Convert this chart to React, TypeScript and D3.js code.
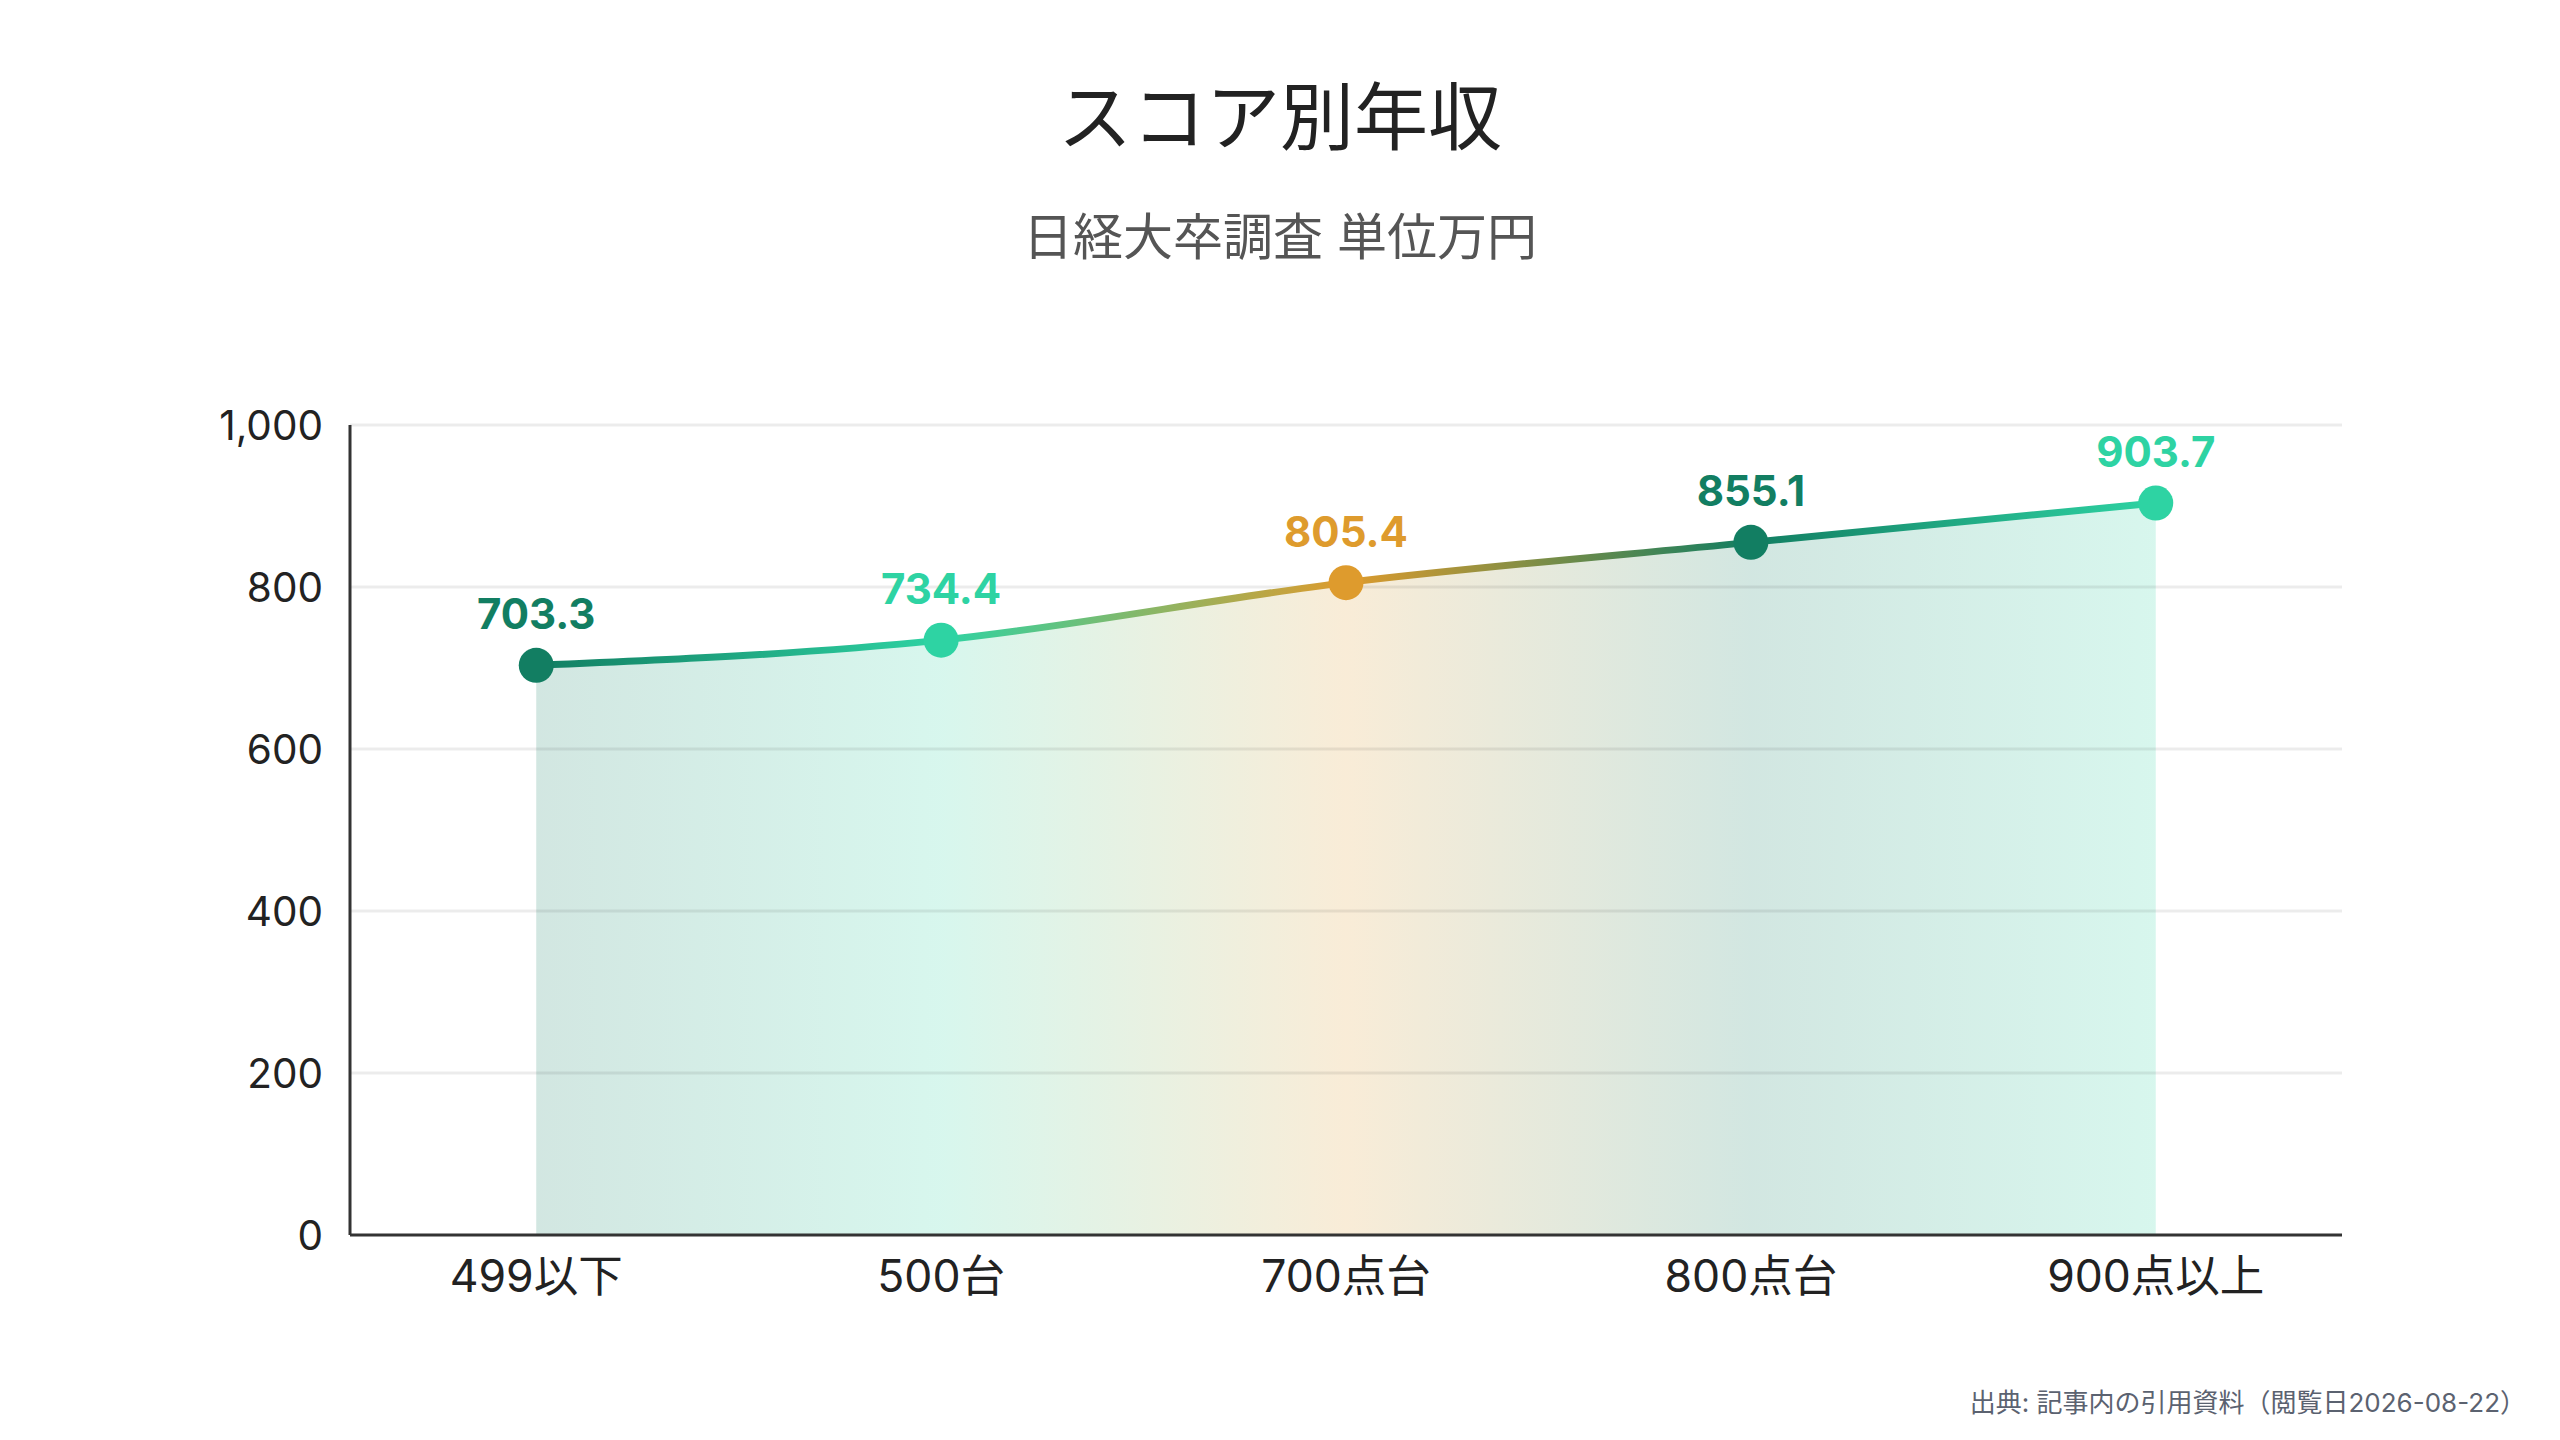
import React from "react";
import * as d3 from "d3";

const categories: string[] = ["499以下", "500台", "700点台", "800点台", "900点以上"];
const values: number[] = [703.3, 734.4, 805.4, 855.1, 903.7];
const pointColors: string[] = ["#127e62", "#2ed3a3", "#de9b2d", "#127e62", "#2ed3a3"];
const yTicks: number[] = [0, 200, 400, 600, 800, 1000];
const titleText = "スコア別年収";
const subtitleText = "日経大卒調査 単位万円";
const sourceText = "出典: 記事内の引用資料（閲覧日2026-08-22）";

const W = 2560;
const H = 1440;
const margin = { left: 350, right: 2342, top: 425, bottom: 1235 };
const FONT = "Inter, 'Noto Sans CJK JP', 'Noto Sans', sans-serif";

export default function App() {
  const x = d3
    .scalePoint<string>()
    .domain(categories)
    .range([margin.left, margin.right])
    .padding(0.46);
  const y = d3.scaleLinear().domain([0, 1000]).range([margin.bottom, margin.top]);

  const data = categories.map((c, i) => ({ c, v: values[i], color: pointColors[i] }));
  const line = d3
    .line<{ c: string; v: number }>()
    .x((d) => x(d.c)!)
    .y((d) => y(d.v))
    .curve(d3.curveMonotoneX);
  const area = d3
    .area<{ c: string; v: number }>()
    .x((d) => x(d.c)!)
    .y0(y(0))
    .y1((d) => y(d.v))
    .curve(d3.curveMonotoneX);

  const x0 = x(categories[0])!;
  const x1 = x(categories[categories.length - 1])!;
  const stops = data.map((d) => ({
    offset: ((x(d.c)! - x0) / (x1 - x0)) * 100,
    color: d.color,
  }));
  const fmt = d3.format(",");

  return (
    <div style={{ position: "absolute", left: 0, top: 0, width: W, height: H, background: "#fff" }}>
      <svg width={W} height={H} viewBox={`0 0 ${W} ${H}`} style={{ display: "block", fontFamily: FONT }}>
        <defs>
          <linearGradient id="lineGrad" gradientUnits="userSpaceOnUse" x1={x0} x2={x1} y1={0} y2={0}>
            {stops.map((s, i) => (
              <stop key={i} offset={`${s.offset}%`} stopColor={s.color} />
            ))}
          </linearGradient>
          <linearGradient id="areaGrad" gradientUnits="userSpaceOnUse" x1={x0} x2={x1} y1={0} y2={0}>
            {stops.map((s, i) => (
              <stop key={i} offset={`${s.offset}%`} stopColor={s.color} stopOpacity={0.19} />
            ))}
          </linearGradient>
        </defs>
        <rect x={0} y={0} width={W} height={H} fill="#fff" />

        <text x={W / 2} y={117} textAnchor="middle" dominantBaseline="central" fontSize={74} fill="#222">
          {titleText}
        </text>
        <text x={W / 2} y={237} textAnchor="middle" dominantBaseline="central" fontSize={50} fill="#555">
          {subtitleText}
        </text>

        <path d={area(data) || ""} fill="url(#areaGrad)" />

        {yTicks.map((t) => (
          <g key={t}>
            {t > 0 && (
              <line
                x1={margin.left}
                x2={margin.right}
                y1={y(t)}
                y2={y(t)}
                stroke="#000"
                strokeOpacity={0.075}
                strokeWidth={3}
              />
            )}
            <text
              x={323}
              y={y(t)}
              textAnchor="end"
              dominantBaseline="central"
              fontSize={40.5}
              fill="#222"
            >
              {fmt(t)}
            </text>
          </g>
        ))}

        <line x1={margin.left} x2={margin.left} y1={margin.top} y2={margin.bottom} stroke="#333" strokeWidth={3} />
        <line x1={margin.left} x2={margin.right} y1={margin.bottom} y2={margin.bottom} stroke="#333" strokeWidth={3} />

        {categories.map((c) => (
          <text key={c} x={x(c)!} y={1276} textAnchor="middle" dominantBaseline="central" fontSize={44.5} fill="#222">
            {c}
          </text>
        ))}

        <path d={line(data) || ""} fill="none" stroke="url(#lineGrad)" strokeWidth={7} strokeLinecap="round" />

        {data.map((d) => (
          <g key={d.c}>
            <circle cx={x(d.c)!} cy={y(d.v)} r={17.5} fill={d.color} />
            <text
              x={x(d.c)!}
              y={y(d.v) - 36}
              textAnchor="middle"
              fontSize={42}
              fontWeight={700}
              fill={d.color}
            >
              {d.v.toFixed(1)}
            </text>
          </g>
        ))}

        <text x={2526} y={1402} textAnchor="end" dominantBaseline="central" fontSize={26} fill="#5b6270">
          {sourceText}
        </text>
      </svg>
    </div>
  );
}
